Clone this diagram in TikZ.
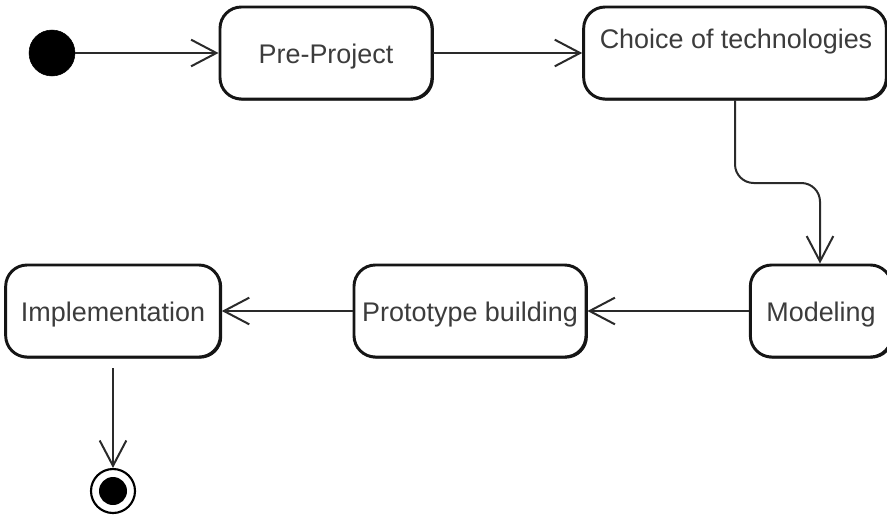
\documentclass[tikz,border=0pt]{standalone}
\usepackage{fontspec}
\setmainfont{Liberation Sans}
\usetikzlibrary{arrows.meta}
\definecolor{txt}{HTML}{3C3C3C}
\definecolor{ln}{HTML}{2A2A2A}
\definecolor{bx}{HTML}{151515}
\begin{document}
\begin{tikzpicture}[x=0.75pt,y=-0.75pt,
  act/.style={draw=bx, line width=2.2pt, rounded corners=16pt, fill=white,
    inner sep=0pt, text=txt, font=\fontsize{20.2}{24}\selectfont,
    text height=15pt, text depth=0pt,
    preaction={draw=bx, line width=1pt, rounded corners=16pt, transform canvas={xshift=0.9pt,yshift=-0.7pt}}},
  lbl/.style={text=txt, font=\fontsize{20.2}{24}\selectfont, inner sep=0pt, text height=15pt, text depth=0pt},
  flow/.style={draw=ln, line width=1.5pt, -{Straight Barb[length=19pt,width=20pt,line width=1.5pt]}}
]
\useasboundingbox (0,0) rectangle (887,518);
% initial node
\node[circle, fill=black, draw=black, minimum size=34.5pt, inner sep=0pt] (start) at (52,53) {};
% activities
\node[act, minimum width=159pt, minimum height=69pt] (pre) at (326,53) {Pre-Project};
\node[act, minimum width=227pt, minimum height=69pt] (choice) at (735,53) {};
\node[lbl] (choicetxt) at (736,38) {Choice of technologies};
\node[act, minimum width=161pt, minimum height=69pt] (impl) at (113,311) {Implementation};
\node[act, minimum width=174pt, minimum height=69pt] (proto) at (470,311) {Prototype building};
\node[act, minimum width=106pt, minimum height=69pt] (model) at (821,311) {Modeling};
% final node
\node[circle, draw=black, line width=1.6pt, minimum size=33pt, inner sep=0pt, fill=white] (final) at (113,491) {};
\node[circle, fill=black, minimum size=21pt, inner sep=0pt] (finaldot) at (113,491) {};
\coordinate (implout) at (113,368);
% connectors
\draw[flow] (start) -- (pre);
\draw[flow] (pre) -- (choice);
\draw[flow, rounded corners=14pt] (choice.south) -- (735,183) -- (820,183) -- (model.north -| 820,0);
\draw[flow] (model) -- (proto);
\draw[flow] (proto) -- (impl);
\draw[flow] (implout) -- (final);
\end{tikzpicture}
\end{document}
